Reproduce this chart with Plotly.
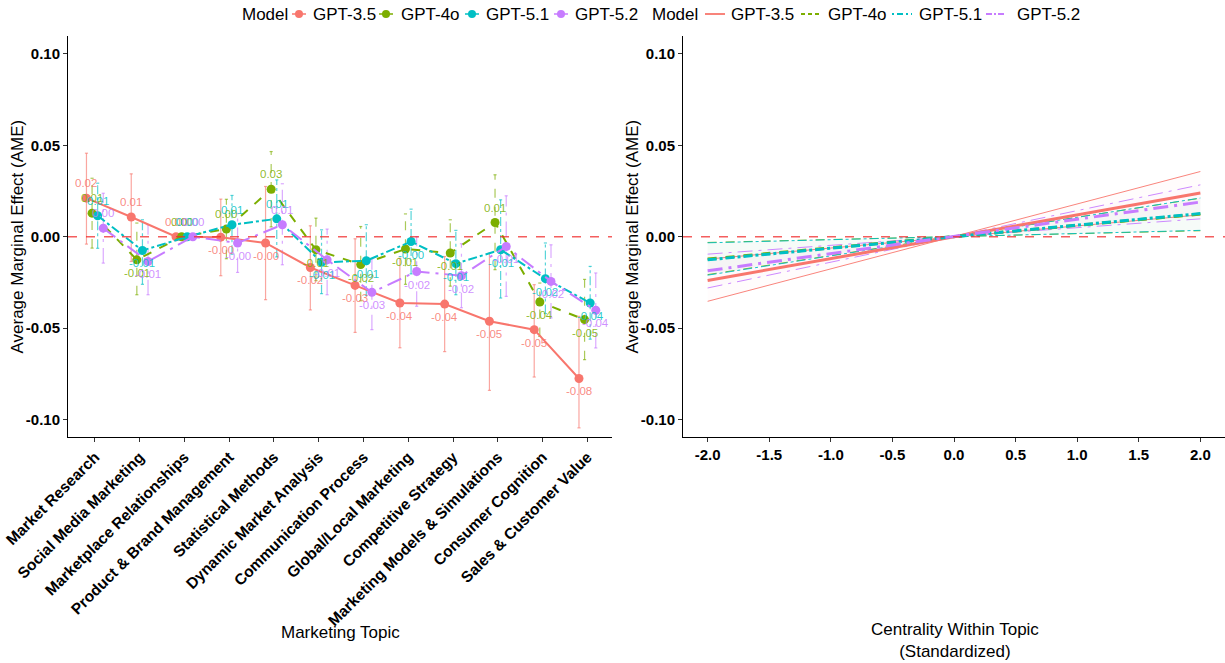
import plotly.graph_objects as go

# ---------------- data ----------------
topics = ["Market Research", "Social Media Marketing", "Marketplace Relationships",
          "Product & Brand Management", "Statistical Methods", "Dynamic Market Analysis",
          "Communication Process", "Global/Local Marketing", "Competitive Strategy",
          "Marketing Models & Simulations", "Consumer Cognition", "Sales & Customer Value"]
models = ["GPT-3.5", "GPT-4o", "GPT-5.1", "GPT-5.2"]

ame_gpt35 = [0.0211, 0.0108, 0.0, -0.0002, -0.0034, -0.0168, -0.0266, -0.0362, -0.0368, -0.0462, -0.0508, -0.0775]
lo_gpt35 = [-0.0040, -0.0135, 0.0, -0.0213, -0.0344, -0.0400, -0.0523, -0.0607, -0.0628, -0.0840, -0.0767, -0.1045]
hi_gpt35 = [0.0457, 0.0344, 0.0, 0.0206, 0.0275, 0.0060, -0.0011, -0.0117, -0.0108, -0.0090, -0.0262, -0.0435]

ame_gpt4o = [0.0129, -0.0126, 0.0, 0.0042, 0.0260, -0.0071, -0.0152, -0.0067, -0.0089, 0.0078, -0.0357, -0.0453]
lo_gpt4o = [-0.0062, -0.0317, 0.0, -0.0120, 0.0054, -0.0240, -0.0350, -0.0260, -0.0270, -0.0180, -0.0545, -0.0672]
hi_gpt4o = [0.0320, 0.0075, 0.0, 0.0205, 0.0466, 0.0102, 0.0056, 0.0125, 0.0093, 0.0339, -0.0253, -0.0233]

ame_gpt51 = [0.0115, -0.0075, 0.0, 0.0066, 0.0098, -0.0140, -0.0131, -0.0026, -0.0147, -0.0071, -0.0229, -0.0362]
lo_gpt51 = [-0.0063, -0.0260, 0.0, -0.0095, -0.0110, -0.0311, -0.0320, -0.0203, -0.0317, -0.0335, -0.0420, -0.0560]
hi_gpt51 = [0.0293, 0.0093, 0.0, 0.0226, 0.0311, 0.0038, 0.0066, 0.0151, 0.0035, 0.0202, -0.0034, -0.0162]

ame_gpt52 = [0.0047, -0.0135, 0.0, -0.0034, 0.0066, -0.0126, -0.0304, -0.0190, -0.0213, -0.0053, -0.0244, -0.0402]
lo_gpt52 = [-0.0144, -0.0317, 0.0, -0.0195, -0.0153, -0.0317, -0.0508, -0.0380, -0.0388, -0.0326, -0.0444, -0.0608]
hi_gpt52 = [0.0238, 0.0066, 0.0, 0.0127, 0.0290, 0.0042, -0.0120, 0.0000, -0.0038, 0.0224, -0.0044, -0.0198]

# right panel: AME across standardized centrality
centrality = [-2.0, 0.0, 2.0]
cen_gpt35 = [-0.0239, 0.0, 0.0239]
cen_lo_gpt35 = [-0.0122, 0.0, 0.0120]
cen_hi_gpt35 = [-0.0353, 0.0, 0.0357]
cen_gpt4o = [-0.0122, 0.0, 0.0124]
cen_lo_gpt4o = [-0.0031, 0.0, 0.0033]
cen_hi_gpt4o = [-0.0207, 0.0, 0.0211]
cen_gpt51 = [-0.0126, 0.0, 0.0127]
cen_lo_gpt51 = [-0.0033, 0.0, 0.0035]
cen_hi_gpt51 = [-0.0210, 0.0, 0.0212]
cen_gpt52 = [-0.0186, 0.0, 0.0190]
cen_lo_gpt52 = [-0.0095, 0.0, 0.0098]
cen_hi_gpt52 = [-0.0280, 0.0, 0.0284]

y_ticks = [0.10, 0.05, 0.0, -0.05, -0.10]
y_ticktext = ["0.10", "0.05", "0.00", "-0.05", "-0.10"]
x2_ticks = [-2.0, -1.5, -1.0, -0.5, 0.0, 0.5, 1.0, 1.5, 2.0]
x2_ticktext = ["-2.0", "-1.5", "-1.0", "-0.5", "0.0", "0.5", "1.0", "1.5", "2.0"]
legend_title = "Model"

# ---------------- style ----------------
colors = ["#F8766D", "#7CAE00", "#00BFC4", "#C77CFF"]
rgb = [(248, 118, 109), (124, 174, 0), (0, 191, 196), (199, 124, 255)]
dashes = ["solid", "dash", "dashdot", "longdashdot"]
key_dashes = ["solid", "4px,3px", "2px,3px,6px,3px", "6px,2px,2px,2px"]
offsets = [-0.1875, -0.0625, 0.0625, 0.1875]
FONT = "Liberation Sans, Arial, sans-serif"

ame = [ame_gpt35, ame_gpt4o, ame_gpt51, ame_gpt52]
lo = [lo_gpt35, lo_gpt4o, lo_gpt51, lo_gpt52]
hi = [hi_gpt35, hi_gpt4o, hi_gpt51, hi_gpt52]
cen = [cen_gpt35, cen_gpt4o, cen_gpt51, cen_gpt52]
cen_lo = [cen_lo_gpt35, cen_lo_gpt4o, cen_lo_gpt51, cen_lo_gpt52]
cen_hi = [cen_hi_gpt35, cen_hi_gpt4o, cen_hi_gpt51, cen_hi_gpt52]

# figure geometry (pixels)
W, H = 1225, 663
ML, MR, MT, MB = 68, 0, 36, 226
PW, PH = W - ML - MR, H - MT - MB


def px(x):
    return (x - ML) / PW


def py(y):
    return (H - MB - y) / PH


fig = go.Figure()
cap = 0.035

# error bars (left panel)
for m in range(4):
    xs, ys = [], []
    for i in range(len(topics)):
        if lo[m][i] == hi[m][i]:
            continue
        x = i + offsets[m]
        xs += [x, x, None, x - cap, x + cap, None, x - cap, x + cap, None]
        ys += [lo[m][i], hi[m][i], None, lo[m][i], lo[m][i], None, hi[m][i], hi[m][i], None]
    r, g, b = rgb[m]
    fig.add_trace(go.Scatter(x=xs, y=ys, mode="lines", xaxis="x", yaxis="y",
                             line=dict(color=f"rgba({r},{g},{b},0.65)", width=1.2, dash=dashes[m]),
                             showlegend=False, hoverinfo="skip"))

# lines + points (left panel)
for m in range(4):
    xs = [i + offsets[m] for i in range(len(topics))]
    fig.add_trace(go.Scatter(x=xs, y=ame[m], mode="lines+markers", xaxis="x", yaxis="y",
                             name=models[m], showlegend=False,
                             line=dict(color=colors[m], width=2, dash=dashes[m]),
                             marker=dict(color=colors[m], size=9)))

# value labels (above for >= 0, below for < 0)
for m in range(4):
    r, g, b = rgb[m]
    for i, v in enumerate(ame[m]):
        fig.add_annotation(x=i + offsets[m], y=v, xref="x", yref="y", text=f"{v:.2f}",
                           showarrow=False, xanchor="center", yanchor="middle",
                           yshift=15 if v >= 0 else -13,
                           font=dict(family=FONT, size=11.5, color=f"rgba({r},{g},{b},0.85)"))

# right panel ribbons and lines
for m in range(4):
    r, g, b = rgb[m]
    fig.add_trace(go.Scatter(x=centrality, y=cen_lo[m], mode="lines", xaxis="x2", yaxis="y2",
                             line=dict(color=colors[m], width=0.9, dash=dashes[m]),
                             showlegend=False, hoverinfo="skip"))
    fig.add_trace(go.Scatter(x=centrality, y=cen_hi[m], mode="lines", xaxis="x2", yaxis="y2",
                             line=dict(color=colors[m], width=0.9, dash=dashes[m]),
                             fill="tonexty", fillcolor=f"rgba({r},{g},{b},0.025)",
                             showlegend=False, hoverinfo="skip"))
for m in range(4):
    fig.add_trace(go.Scatter(x=centrality, y=cen[m], mode="lines", xaxis="x2", yaxis="y2",
                             name=models[m], showlegend=False,
                             line=dict(color=colors[m], width=3, dash=dashes[m])))

# zero reference lines
for xr, yr in [("x domain", "y"), ("x2 domain", "y2")]:
    fig.add_shape(type="line", xref=xr, yref=yr, x0=0, x1=1, y0=0, y1=0,
                  line=dict(color="rgba(240,40,40,0.75)", width=1.3, dash="dash"), layer="above")

# ---------------- manual legends (pixel positions) ----------------
LEG_Y = 14
LEG_FONT = dict(family=FONT, size=17, color="black")
leg1_title_x = 240
leg1_key_x = [299, 386, 472, 561]
leg1_text_x = [311, 399, 484, 573]
leg2_title_x = 650
leg2_key_x = [715, 811, 902, 996]
leg2_text_x = [729, 826, 917, 1015]

for tx in (leg1_title_x, leg2_title_x):
    fig.add_annotation(text=legend_title, xref="paper", yref="paper", x=px(tx), y=py(LEG_Y),
                       xanchor="left", yanchor="middle", showarrow=False, font=LEG_FONT)
for m in range(4):
    kx = leg1_key_x[m]
    fig.add_shape(type="line", xref="paper", yref="paper", x0=px(kx - 7), x1=px(kx + 7),
                  y0=py(LEG_Y), y1=py(LEG_Y), line=dict(color=colors[m], width=1.5))
    fig.add_shape(type="circle", xref="paper", yref="paper", x0=px(kx - 4), x1=px(kx + 4),
                  y0=py(LEG_Y + 4), y1=py(LEG_Y - 4), line=dict(color=colors[m], width=0),
                  fillcolor=colors[m])
    fig.add_annotation(text=models[m], xref="paper", yref="paper", x=px(leg1_text_x[m]), y=py(LEG_Y),
                       xanchor="left", yanchor="middle", showarrow=False, font=LEG_FONT)
    kx = leg2_key_x[m]
    fig.add_shape(type="line", xref="paper", yref="paper", x0=px(kx - 10), x1=px(kx + 10),
                  y0=py(LEG_Y), y1=py(LEG_Y), line=dict(color=colors[m], width=1.8, dash=key_dashes[m]))
    fig.add_annotation(text=models[m], xref="paper", yref="paper", x=px(leg2_text_x[m]), y=py(LEG_Y),
                       xanchor="left", yanchor="middle", showarrow=False, font=LEG_FONT)

axis_common = dict(showline=True, linecolor="black", linewidth=1, ticks="outside",
                   ticklen=4, tickcolor="#333333", showgrid=False, zeroline=False,
                   automargin=False)

xtickfont = dict(family=FONT, size=15.5, color="black", weight="bold")
ytickfont = dict(family=FONT, size=15, color="black", weight="bold")

fig.update_layout(
    width=W, height=H,
    margin=dict(l=ML, r=MR, t=MT, b=MB, autoexpand=False),
    paper_bgcolor="white", plot_bgcolor="white",
    font=dict(family=FONT, color="black"),
    showlegend=False,
    xaxis=dict(domain=[0, px(612)], range=[-0.6, 11.55], tickvals=list(range(len(topics))),
               ticktext=topics, tickangle=-45, anchor="y", tickfont=xtickfont, **axis_common),
    yaxis=dict(domain=[0, 1], range=[-0.1095, 0.1098], tickvals=y_ticks, ticktext=y_ticktext,
               anchor="x", tickfont=ytickfont, **axis_common),
    xaxis2=dict(domain=[px(683), 1.0], range=[-2.2, 2.2], tickvals=x2_ticks, ticktext=x2_ticktext,
                anchor="y2", tickfont=ytickfont, **axis_common),
    yaxis2=dict(domain=[0, 1], range=[-0.1095, 0.1098], tickvals=y_ticks, ticktext=y_ticktext,
                anchor="x2", tickfont=ytickfont, **axis_common),
)

# axis titles
fig.add_annotation(text="Average Marginal Effect (AME)", xref="paper", yref="paper",
                   x=px(17), y=0.5, textangle=-90, showarrow=False,
                   font=dict(family=FONT, size=17), xanchor="center", yanchor="middle")
fig.add_annotation(text="Average Marginal Effect (AME)", xref="paper", yref="paper",
                   x=px(632), y=0.5, textangle=-90, showarrow=False,
                   font=dict(family=FONT, size=17), xanchor="center", yanchor="middle")
fig.add_annotation(text="Marketing Topic", xref="paper", yref="paper",
                   x=px(340), y=py(632), showarrow=False,
                   font=dict(family=FONT, size=17), xanchor="center", yanchor="middle")
fig.add_annotation(text="Centrality Within Topic<br>(Standardized)", xref="paper", yref="paper",
                   x=px(955), y=py(641), showarrow=False,
                   font=dict(family=FONT, size=17), xanchor="center", yanchor="middle")

fig.write_html("out.html", config={"displayModeBar": False},
               post_script="document.body.style.margin='0';")
